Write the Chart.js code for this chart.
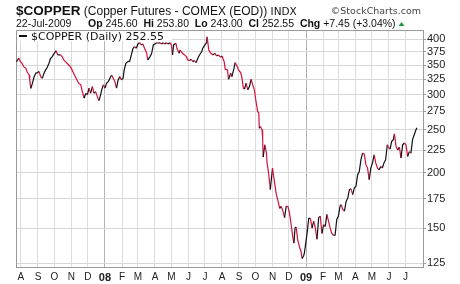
<!DOCTYPE html>
<html>
<head>
<meta charset="utf-8">
<script src="https://cdn.jsdelivr.net/npm/chart.js@4/dist/chart.umd.min.js"></script>
<style>
  html, body { margin: 0; padding: 0; background: #fff; }
  canvas { display: block; }
</style>
</head>
<body>
<canvas id="chart" width="460" height="284"></canvas>
<script>
// calendar days counted from 1-Aug-2007
const days = [
  -8, -4, -1, 2, 5, 9, 11, 15, 16, 18,
  21, 24, 27, 30, 33, 36, 39, 42, 45, 48,
  51, 54, 57, 60, 64, 67, 72, 75, 78, 81,
  84, 87, 90, 93, 96, 99, 102, 105, 109, 111,
  115, 118, 121, 124, 127, 130, 133, 136, 139, 142,
  145, 147, 150, 153, 156, 159, 162, 165, 168, 171,
  174, 177, 180, 183, 186, 188, 191, 195, 198, 201,
  204, 207, 210, 213, 216, 219, 222, 225, 229, 231,
  235, 238, 241, 244, 247, 250, 253, 256, 259, 262,
  265, 268, 271, 274, 276, 278, 282, 284, 288, 290,
  294, 298, 301, 304, 307, 310, 313, 316, 319, 322,
  325, 329, 331, 335, 338, 339, 342, 345, 350, 353,
  356, 359, 364, 366, 370, 372, 376, 378, 382, 384,
  388, 390, 394, 396, 400, 402, 405, 407, 410, 413,
  416, 419, 422, 425, 428, 431, 433, 434, 436, 439,
  440, 441, 444, 447, 448, 451, 454, 458, 460, 462,
  465, 468, 471, 474, 477, 480, 483, 486, 489, 492,
  495, 497, 499, 501, 504, 507, 510, 512, 515, 516,
  519, 521, 524, 527, 530, 533, 536, 539, 542, 545,
  548, 551, 554, 557, 560, 563, 566, 569, 572, 575,
  578, 581, 583, 586, 589, 592, 595, 598, 601, 604,
  607, 610, 613, 616, 619, 622, 625, 628, 631, 634,
  637, 640, 643, 646, 649, 652, 655, 658, 661, 664,
  667, 669, 672, 675, 678, 680, 683, 686, 689, 692,
  695, 698, 701, 704, 707, 710, 713, 716, 719, 721
];
const closes = [
  356, 363, 356, 353, 347, 344, 338, 332.5, 324, 310,
  318.5, 329.5, 335.5, 336.5, 338.3, 329.5, 326.7, 335.5, 341.3, 346,
  353.2, 362.6, 365.6, 370.7, 377, 368.8, 369, 365.6, 359.4, 356.2,
  353.2, 350, 347, 341.3, 335.5, 329.5, 323.9, 318.5, 315.8, 307.7,
  294.6, 302.3, 300, 310.4, 302.3, 313, 302.3, 304.9, 297, 291,
  299.6, 307.7, 315.8, 310.4, 318.5, 321.1, 326.7, 332.5, 326.7, 321.1,
  310.4, 323.9, 329.5, 323.9, 326.7, 341.3, 353.2, 356.2, 357, 368.8,
  381.8, 385, 381.8, 390.5, 393.1, 388.5, 390.5, 381.8, 372, 359.4,
  365.6, 372, 388.5, 390.5, 393.1, 391.9, 393.1, 390.5, 393.1, 390.5,
  393.1, 390.5, 393.1, 388.5, 368.8, 388.5, 391.9, 381.8, 372, 378.4,
  372, 368.8, 365.6, 359.4, 358.1, 360.7, 356.2, 358.1, 354.3, 362.6,
  368.8, 375, 381.8, 388.5, 393.1, 405, 378.4, 373, 368.8, 372,
  366.9, 368.8, 364.5, 366.9, 356.2, 342.5, 341.3, 325, 335.5, 329.5,
  344.2, 354.3, 347, 341.3, 336.5, 329.5, 310.4, 308.8, 318.5, 307.7,
  313, 325, 315.8, 307.7, 289.6, 274.7, 273, 252, 254.2, 250,
  239.5, 217, 231.3, 221.5, 210.5, 199.5, 183.3, 205, 196.9, 189.1,
  178.5, 172.9, 166.2, 167.9, 163.9, 158.4, 168.3, 167.9, 162, 152.7,
  143, 138.8, 150.1, 150.9, 140.9, 136.3, 132.7, 128.1, 130.3, 131.7,
  140.2, 146.4, 157.8, 157.8, 150.1, 155.5, 150, 141.6, 158.4, 159.7,
  145.9, 152.7, 151.3, 161.1, 155.5, 150, 145.9, 144.5, 144.8, 157,
  159.7, 168.1, 169.5, 165.3, 163.9, 172.3, 175.3, 183.3, 184, 178.5,
  185, 186.5, 197.9, 201.2, 214.1, 221.5, 220.4, 208.6, 205, 193,
  205, 210.5, 219.6, 210.5, 205, 203.1, 206.7, 205, 210.5, 214.1,
  231.3, 228.5, 226, 235.4, 237.5, 244.8, 229.2, 225.1, 228.5, 216,
  231.3, 233.4, 231.3, 217.7, 223.2, 221.5, 237.5, 243.6, 249.8, 252.55
];

const monthDays = [0, 31, 61, 92, 122, 153, 184, 213, 244, 274, 305, 335,
                   366, 397, 427, 458, 488, 519, 550, 578, 609, 639, 670, 700];
const monthLabels = ["A", "S", "O", "N", "D", "08", "F", "M", "A", "M", "J", "J",
                     "A", "S", "O", "N", "D", "09", "F", "M", "A", "M", "J", "J"];
const yearStarts = [153, 519];
const yTicks = [125, 150, 175, 200, 225, 250, 275, 300, 325, 350, 375, 400];

const UP = "#111111";
const DOWN = "#d4103c";
const SANS = "'Liberation Sans', Arial, sans-serif";
const VERD = "'DejaVu Sans', Verdana, sans-serif";

function run(ctx, parts, x, y) {
  for (const [text, font, color] of parts) {
    ctx.font = font;
    ctx.fillStyle = color || "#111";
    ctx.fillText(text, x, y);
    x += ctx.measureText(text).width;
  }
  return x;
}

const overlay = {
  id: "overlay",
  beforeDatasetsDraw(chart) {
    const { ctx, chartArea: a } = chart;
    ctx.save();
    ctx.strokeStyle = "#9a9a9a";
    ctx.lineWidth = 1;
    ctx.beginPath();
    ctx.moveTo(a.left + 0.5, a.bottom);
    ctx.lineTo(a.left + 0.5, a.top + 0.5);
    ctx.lineTo(a.right, a.top + 0.5);
    ctx.stroke();
    ctx.restore();
  },
  afterDatasetsDraw(chart) {
    const { ctx, chartArea: a } = chart;
    ctx.save();
    ctx.fillStyle = "#fff";
    ctx.fillRect(a.left + 1, a.top + 1, 155, 10);
    ctx.fillStyle = "#111";
    ctx.fillRect(a.left + 3, a.top + 5, 8, 2);
    ctx.font = "11px " + VERD;
    ctx.textBaseline = "alphabetic";
    ctx.fillText("$COPPER (Daily) " + closes[closes.length - 1].toFixed(2), a.left + 15, a.top + 10);
    ctx.restore();
  },
  afterDraw(chart) {
    const { ctx } = chart;
    ctx.save();
    ctx.textBaseline = "alphabetic";
    run(ctx, [
      ["$COPPER", "bold 13.5px " + SANS],
      [" (Copper Futures - COMEX (EOD)) ", "12px " + SANS],
      ["INDX", "10.5px " + VERD]
    ], 16, 15);
    ctx.font = "9.5px " + VERD;
    ctx.fillStyle = "#444";
    ctx.textAlign = "right";
    ctx.fillText("\u00a9StockCharts.com", 421, 14);
    ctx.textAlign = "left";
    run(ctx, [["22-Jul-2009", "10.5px " + SANS]], 16, 27);
    const B = "bold 10.5px " + SANS, R = "10.5px " + SANS;
    const end = run(ctx, [
      ["Op", B], [" 245.60  ", R],
      ["Hi", B], [" 253.80  ", R],
      ["Lo", B], [" 243.00  ", R],
      ["Cl", B], [" 252.55  ", R],
      ["Chg", B], [" +7.45 (+3.04%) ", R]
    ], 88, 27);
    ctx.fillStyle = "#1e9a3c";
    ctx.beginPath();
    ctx.moveTo(end, 26);
    ctx.lineTo(end + 6, 26);
    ctx.lineTo(end + 3, 22);
    ctx.closePath();
    ctx.fill();
    ctx.restore();
  }
};

new Chart(document.getElementById("chart"), {
  type: "line",
  data: {
    datasets: [{
      data: days.map((d, i) => ({ x: d, y: closes[i] })),
      borderWidth: 1.2,
      pointRadius: 0,
      tension: 0,
      borderColor: UP,
      segment: {
        borderColor: c => c.p1.parsed.y < c.p0.parsed.y ? DOWN : UP
      }
    }]
  },
  options: {
    responsive: false,
    animation: false,
    devicePixelRatio: 1,
    layout: { padding: { left: 16, top: 30, right: 0, bottom: 0 } },
    plugins: { legend: { display: false }, tooltip: { enabled: false } },
    scales: {
      x: {
        type: "linear",
        min: -9,
        max: 732,
        afterBuildTicks: s => { s.ticks = monthDays.map(v => ({ value: v })); },
        afterFit: s => { s.height = 17; },
        grid: {
          color: c => (c.tick && yearStarts.includes(c.tick.value)) ? "#b4b4b4" : "#dcdcdc",
          drawTicks: false
        },
        border: { color: "#9a9a9a" },
        ticks: {
          autoSkip: false,
          maxRotation: 0,
          padding: 4,
          color: "#222",
          font: c => (c.tick && yearStarts.includes(c.tick.value))
            ? { family: SANS, size: 11, weight: "bold" }
            : { family: SANS, size: 10 },
          callback: v => monthLabels[monthDays.indexOf(v)]
        }
      },
      y: {
        type: "logarithmic",
        position: "right",
        bounds: "data",
        min: 122.6,
        max: 419.8,
        afterBuildTicks: s => { s.ticks = yTicks.map(v => ({ value: v })); },
        afterFit: s => { s.width = 37; },
        grid: { color: "#d8d8d8", drawTicks: true, tickLength: 3, tickColor: "#9a9a9a" },
        border: { color: "#9a9a9a" },
        ticks: {
          padding: 1,
          color: "#222",
          font: { family: SANS, size: 11 },
          callback: v => String(v)
        }
      }
    }
  },
  plugins: [overlay]
});
</script>
</body>
</html>
